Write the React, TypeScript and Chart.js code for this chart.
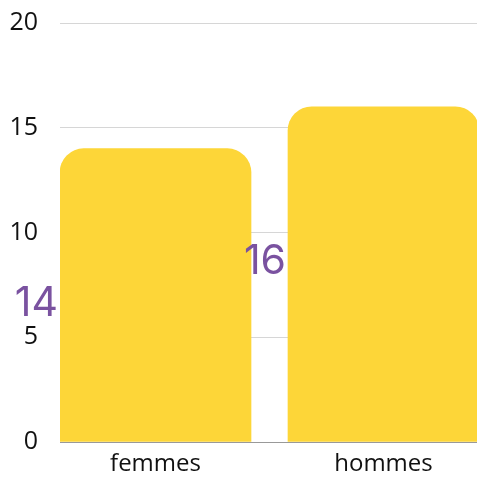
import React, { useEffect, useRef } from "react";
import { Chart, registerables } from "chart.js";

Chart.register(...registerables);

const categories = ["femmes", "hommes"];
const values = [14, 16];
const yTicks = [0, 5, 10, 15, 20];

const BAR_COLOR = "#FDD638";
const LABEL_COLOR = "#7A52A0";

const valueLabels = {
  id: "valueLabels",
  afterDatasetsDraw(chart: any) {
    const ctx = chart.ctx;
    const meta = chart.getDatasetMeta(0);
    ctx.save();
    ctx.fillStyle = LABEL_COLOR;
    ctx.font = "41px Inter";
    ctx.textAlign = "right";
    ctx.textBaseline = "alphabetic";
    meta.data.forEach((bar: any, i: number) => {
      const left = bar.x - bar.width / 2;
      ctx.fillText(String(values[i]), left - 2, bar.y + 167);
    });
    ctx.restore();
  },
};

export default function App() {
  const ref = useRef<HTMLCanvasElement>(null);
  useEffect(() => {
    document.body.style.margin = "0";
    const canvas = ref.current!;
    const chart = new Chart(canvas, {
      type: "bar",
      data: {
        datasets: [
          {
            data: values.map((v, i) => ({ x: i, y: v })),
            backgroundColor: BAR_COLOR,
            borderRadius: 24,
            borderSkipped: "start",
            barThickness: 191,
          },
        ],
      },
      options: {
        responsive: false,
        animation: false,
        layout: { padding: { top: 23, right: 0, left: 0, bottom: 0 } },
        plugins: { legend: { display: false }, tooltip: { enabled: false } },
        scales: {
          x: {
            type: "linear",
            offset: false,
            min: -0.4189,
            max: 1.4101,
            grid: { display: false, drawTicks: false, offset: false },
            border: { display: true, color: "#999999", width: 1 },
            afterBuildTicks: (scale: any) => {
              scale.ticks = categories.map((_, i) => ({ value: i }));
            },
            afterFit: (scale: any) => {
              scale.height = 35;
            },
            ticks: {
              autoSkip: false,
              maxRotation: 0,
              padding: 8,
              color: "#111111",
              font: { family: "Open Sans", size: 24 },
              callback: (v: any) => categories[v as number] ?? "",
            },
          },
          y: {
            min: 0,
            max: 20,
            afterBuildTicks: (scale: any) => {
              scale.ticks = yTicks.map((v) => ({ value: v }));
            },
            afterFit: (scale: any) => {
              scale.width = 60;
            },
            grid: {
              color: "#d6d6d6",
              drawTicks: true,
              tickLength: 22,
              tickColor: "rgba(0,0,0,0)",
              lineWidth: 1,
            },
            border: { display: false },
            ticks: {
              padding: 0,
              color: "#111111",
              font: { family: "Open Sans", size: 25 },
            },
          },
        },
      },
      plugins: [valueLabels],
    });
    return () => chart.destroy();
  }, []);
  return (
    <div style={{ width: 477, height: 477 }}>
      <canvas ref={ref} width={477} height={477} />
    </div>
  );
}
